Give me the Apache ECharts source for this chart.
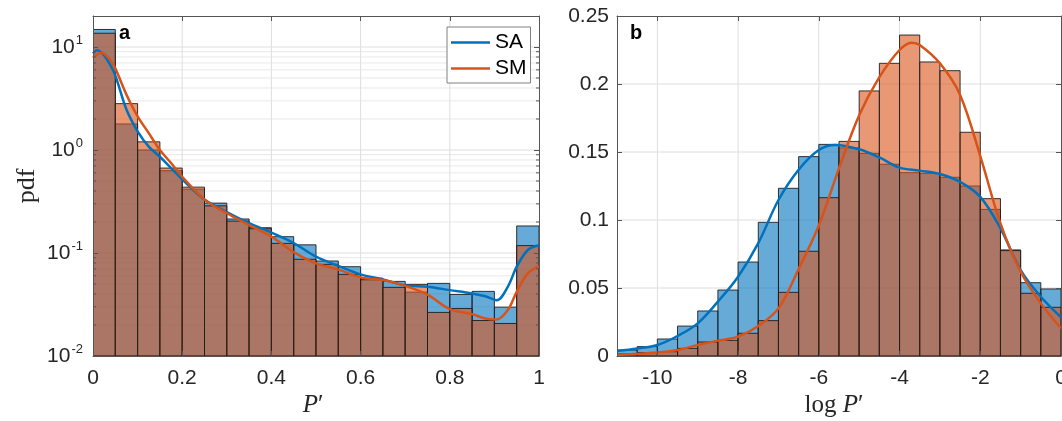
<!DOCTYPE html>
<html>
<head>
<meta charset="utf-8">
<script src="https://cdn.jsdelivr.net/npm/echarts@6/dist/echarts.min.js"></script>
<style>html,body{margin:0;padding:0;background:#fff}#c{width:1062px;height:421px}</style>
</head>
<body>
<div id="c"></div>
<script>
// ---------- Panel a: pdf of P' (log y) ----------
const aEdges = [0,0.05,0.1,0.15,0.2,0.25,0.3,0.35,0.4,0.45,0.5,0.55,0.6,0.65,0.7,0.75,0.8,0.85,0.9,0.95,1];
const aSA = [14.8,1.79,1.0,0.63,0.417,0.305,0.214,0.176,0.144,0.12,0.0836,0.0736,0.057,0.053,0.0417,0.0507,0.0396,0.0424,0.0298,0.183];
const aSM = [13.6,2.82,1.20,0.668,0.436,0.287,0.204,0.172,0.124,0.0869,0.0776,0.062,0.055,0.0464,0.0496,0.0265,0.0289,0.0221,0.0207,0.118];
const aCurveSA = [[0,8.65],[0.009,9.3],[0.023,8.47],[0.038,6.77],[0.05,5.3],[0.075,2.47],[0.1,1.52],[0.125,1.08],[0.15,0.86],[0.175,0.668],[0.2,0.52],[0.25,0.33],[0.3,0.25],[0.35,0.195],[0.4,0.158],[0.45,0.125],[0.5,0.092],[0.55,0.075],[0.6,0.062],[0.65,0.0554],[0.7,0.0485],[0.75,0.047],[0.8,0.0436],[0.85,0.0405],[0.88,0.038],[0.905,0.0348],[0.93,0.047],[0.95,0.0736],[0.975,0.107],[1.0,0.119]];
const aCurveSM = [[0,7.87],[0.019,8.8],[0.038,7.57],[0.05,6.2],[0.075,3.45],[0.1,2.12],[0.125,1.46],[0.15,1.0],[0.175,0.747],[0.2,0.55],[0.25,0.33],[0.3,0.243],[0.35,0.187],[0.4,0.144],[0.45,0.102],[0.5,0.0794],[0.55,0.069],[0.6,0.058],[0.65,0.0546],[0.7,0.048],[0.75,0.0395],[0.8,0.0285],[0.85,0.0255],[0.88,0.0231],[0.905,0.0226],[0.93,0.0279],[0.95,0.042],[0.975,0.0634],[1.0,0.0747]];
const aXGrid = [0.2,0.4,0.6,0.8];
const aYMajor = [0.1,1,10];
const aYMinor = [0.02,0.03,0.04,0.05,0.06,0.07,0.08,0.09,0.2,0.3,0.4,0.5,0.6,0.7,0.8,0.9,2,3,4,5,6,7,8,9];

// ---------- Panel b: pdf of log P' ----------
const bEdges = [-11,-10.5,-10,-9.5,-9,-8.5,-8,-7.5,-7,-6.5,-6,-5.5,-5,-4.5,-4,-3.5,-3,-2.5,-2,-1.5,-1,-0.5,0];
const bSA = [0.0044,0.0069,0.0125,0.022,0.0331,0.0485,0.0691,0.0983,0.1233,0.1466,0.1556,0.153,0.149,0.141,0.1348,0.1343,0.1314,0.125,0.1078,0.078,0.0539,0.0493];
const bSM = [0.0015,0.0025,0.0032,0.0056,0.0103,0.0115,0.0167,0.026,0.0468,0.077,0.1164,0.1578,0.1949,0.2152,0.236,0.2162,0.2098,0.1645,0.1157,0.0775,0.0461,0.0358];
const bCurveSA = [[-11,0.0037],[-10.5,0.0055],[-10,0.0081],[-9.5,0.0147],[-9,0.024],[-8.5,0.040],[-8,0.0583],[-7.5,0.083],[-7,0.1147],[-6.5,0.137],[-6,0.1515],[-5.6,0.1552],[-5,0.152],[-4.5,0.146],[-4,0.1385],[-3.5,0.1363],[-3,0.1338],[-2.5,0.128],[-2,0.117],[-1.5,0.0939],[-1,0.0632],[-0.5,0.0436],[0,0.0285]];
const bCurveSM = [[-11,0.0007],[-10,0.0025],[-9.5,0.0044],[-9,0.0081],[-8.5,0.0113],[-8,0.0142],[-7.5,0.022],[-7,0.035],[-6.5,0.064],[-6,0.096],[-5.5,0.138],[-5,0.177],[-4.5,0.205],[-4,0.225],[-3.7,0.2304],[-3.5,0.2287],[-3,0.2152],[-2.5,0.192],[-2,0.147],[-1.5,0.0975],[-1,0.062],[-0.5,0.0387],[0,0.0204]];
const bXTicks = [-10,-8,-6,-4,-2,0];
const bXGrid = [-10,-8,-6,-4,-2];
const bYGrid = [0.05,0.1,0.15,0.2];

const C_SA = '#0072BD', C_SM = '#D95319';
const FILL_SA = 'rgba(0,114,189,0.6)', FILL_SM = 'rgba(217,83,25,0.6)';
const SANS = '"Liberation Sans", Arial, Helvetica, sans-serif';
const SERIF = '"Liberation Serif", "Times New Roman", serif';
const AX = '#555555', TXT = '#262626', GRID = '#dedede', MINOR = '#e8e8e8';

function barSeries(edges, vals, xi, yi, base, fill) {
  return {
    type: 'custom', xAxisIndex: xi, yAxisIndex: yi, clip: true, z: 3, silent: true,
    data: vals.map((v, i) => [edges[i], edges[i + 1], v]),
    encode: { x: [0, 1], y: 2 },
    renderItem: (p, api) => {
      const a = api.coord([api.value(0), api.value(2)]);
      const b = api.coord([api.value(1), base]);
      return { type: 'rect', shape: { x: a[0], y: a[1], width: b[0] - a[0], height: b[1] - a[1] },
        style: { fill: fill, stroke: 'rgba(30,30,30,0.9)', lineWidth: 1 } };
    }
  };
}
function hLines(vals, xi, yi, x0, x1, color, z) {
  return {
    type: 'custom', xAxisIndex: xi, yAxisIndex: yi, z: z, silent: true,
    data: vals.map(v => [x0, v]), encode: { x: 0, y: 1 },
    renderItem: (p, api) => {
      const a = api.coord([x0, api.value(1)]), b = api.coord([x1, api.value(1)]);
      return { type: 'line', shape: { x1: a[0], y1: a[1], x2: b[0], y2: b[1] }, style: { stroke: color, lineWidth: 1 } };
    }
  };
}
function vLines(vals, xi, yi, y0, y1, color, z) {
  return {
    type: 'custom', xAxisIndex: xi, yAxisIndex: yi, z: z, silent: true,
    data: vals.map(v => [v, y0]), encode: { x: 0, y: 1 },
    renderItem: (p, api) => {
      const a = api.coord([api.value(0), y0]), b = api.coord([api.value(0), y1]);
      return { type: 'line', shape: { x1: a[0], y1: a[1], x2: b[0], y2: b[1] }, style: { stroke: color, lineWidth: 1 } };
    }
  };
}
function minorTicks(vals, xi, yi, x0, x1) {
  return {
    type: 'custom', xAxisIndex: xi, yAxisIndex: yi, z: 12, silent: true,
    data: vals.map(v => [x0, v]), encode: { x: 0, y: 1 },
    renderItem: (p, api) => {
      const a = api.coord([x0, api.value(1)]), b = api.coord([x1, api.value(1)]);
      return { type: 'group', children: [
        { type: 'line', shape: { x1: a[0], y1: a[1], x2: a[0] + 3, y2: a[1] }, style: { stroke: AX, lineWidth: 1 } },
        { type: 'line', shape: { x1: b[0] - 3, y1: b[1], x2: b[0], y2: b[1] }, style: { stroke: AX, lineWidth: 1 } }
      ] };
    }
  };
}
function lineSeries(name, pts, xi, yi, color) {
  return { name: name, type: 'line', xAxisIndex: xi, yAxisIndex: yi, data: pts, smooth: 0.35,
    showSymbol: false, symbol: 'none', z: 6, silent: true,
    lineStyle: { width: 2.5, color: color }, itemStyle: { color: color } };
}

const axisCommon = {
  z: 10,
  axisLine: { show: true, onZero: false, lineStyle: { color: AX, width: 1 } },
  axisTick: { show: true, inside: true, length: 5, lineStyle: { color: AX } },
  splitLine: { show: false },
  axisLabel: { color: TXT, fontSize: 21, fontFamily: SANS }
};
function ax(extra) { return Object.assign({}, JSON.parse(JSON.stringify(axisCommon)), extra); }

const chart = echarts.init(document.getElementById('c'), null, { renderer: 'canvas' });
chart.setOption({
  animation: false,
  backgroundColor: '#fff',
  grid: [
    { left: 93, top: 16, width: 446, height: 340, outerBoundsMode: 'none' },
    { left: 617, top: 16, width: 444, height: 340, outerBoundsMode: 'none' }
  ],
  xAxis: [
    ax({ gridIndex: 0, type: 'value', min: 0, max: 1, interval: 0.2, position: 'bottom',
      axisLabel: { color: TXT, fontSize: 21, fontFamily: SANS, margin: 12 } }),
    ax({ gridIndex: 0, type: 'value', min: 0, max: 1, interval: 0.2, position: 'top', axisLabel: { show: false } }),
    ax({ gridIndex: 1, type: 'value', min: -11, max: 0, position: 'bottom',
      axisTick: { show: true, inside: true, length: 5, lineStyle: { color: AX }, customValues: bXTicks },
      axisLabel: { color: TXT, fontSize: 21, fontFamily: SANS, margin: 12, customValues: bXTicks } }),
    ax({ gridIndex: 1, type: 'value', min: -11, max: 0, position: 'top',
      axisTick: { show: true, inside: true, length: 5, lineStyle: { color: AX }, customValues: bXTicks },
      axisLabel: { show: false } })
  ],
  yAxis: [
    ax({ gridIndex: 0, type: 'log', logBase: 10, min: 0.01, max: 20, position: 'left',
      axisLabel: { color: TXT, fontFamily: SANS, margin: 10, showMaxLabel: false,
        formatter: v => '{b|10}{s|' + Math.round(Math.log10(v)) + '}',
        rich: { b: { fontSize: 21, fontFamily: SANS, color: TXT },
                s: { fontSize: 13, fontFamily: SANS, color: TXT, padding: [0, 0, 13, 1] } } } }),
    ax({ gridIndex: 0, type: 'log', logBase: 10, min: 0.01, max: 20, position: 'right', axisLabel: { show: false } }),
    ax({ gridIndex: 1, type: 'value', min: 0, max: 0.25, interval: 0.05, position: 'left',
      axisLabel: { color: TXT, fontSize: 21, fontFamily: SANS, margin: 8 } }),
    ax({ gridIndex: 1, type: 'value', min: 0, max: 0.25, interval: 0.05, position: 'right', axisLabel: { show: false } })
  ],
  legend: {
    data: ['SA', 'SM'], left: 447, top: 27, orient: 'vertical', icon: 'rect',
    itemWidth: 39, itemHeight: 2.5, itemGap: 5, padding: [5, 4, 4, 4],
    borderColor: '#808080', borderWidth: 1, backgroundColor: '#fff', borderRadius: 0,
    selectedMode: false, z: 20,
    textStyle: { fontSize: 21, color: '#000', fontFamily: SANS }
  },
  series: [
    hLines(aYMinor, 0, 0, 0, 1, MINOR, 1),
    hLines(aYMajor, 0, 0, 0, 1, GRID, 1),
    vLines(aXGrid, 0, 0, 0.01, 20, GRID, 1),
    barSeries(aEdges, aSA, 0, 0, 0.01, FILL_SA),
    barSeries(aEdges, aSM, 0, 0, 0.01, FILL_SM),
    lineSeries('SA', aCurveSA, 0, 0, C_SA),
    lineSeries('SM', aCurveSM, 0, 0, C_SM),
    minorTicks(aYMinor, 0, 0, 0, 1),
    hLines(bYGrid, 2, 2, -11, 0, GRID, 1),
    vLines(bXGrid, 2, 2, 0, 0.25, GRID, 1),
    barSeries(bEdges, bSA, 2, 2, 0, FILL_SA),
    barSeries(bEdges, bSM, 2, 2, 0, FILL_SM),
    lineSeries('SA', bCurveSA, 2, 2, C_SA),
    lineSeries('SM', bCurveSM, 2, 2, C_SM)
  ],
  graphic: [
    { type: 'text', x: 119, y: 33, z: 30, style: { text: 'a', font: 'bold 20px ' + SANS, fill: '#000', align: 'left', verticalAlign: 'middle' } },
    { type: 'text', x: 630, y: 33, z: 30, style: { text: 'b', font: 'bold 20px ' + SANS, fill: '#000', align: 'left', verticalAlign: 'middle' } },
    { type: 'text', x: 27, y: 186, rotation: Math.PI / 2, z: 30,
      style: { text: 'pdf', font: '26px ' + SERIF, fill: TXT, align: 'center', verticalAlign: 'middle' } },
    { type: 'text', x: 313, y: 405, z: 30,
      style: { text: '{i|P}{r|′}', align: 'center', verticalAlign: 'middle',
        rich: { i: { fontSize: 25, fontFamily: SERIF, fontStyle: 'italic', fill: TXT, color: TXT },
                r: { fontSize: 25, fontFamily: SERIF, fill: TXT, color: TXT } } } },
    { type: 'text', x: 834, y: 405, z: 30,
      style: { text: '{r|log }{i|P}{r|′}', align: 'center', verticalAlign: 'middle',
        rich: { i: { fontSize: 25, fontFamily: SERIF, fontStyle: 'italic', fill: TXT, color: TXT },
                r: { fontSize: 25, fontFamily: SERIF, fill: TXT, color: TXT } } } }
  ]
});
</script>
</body>
</html>
